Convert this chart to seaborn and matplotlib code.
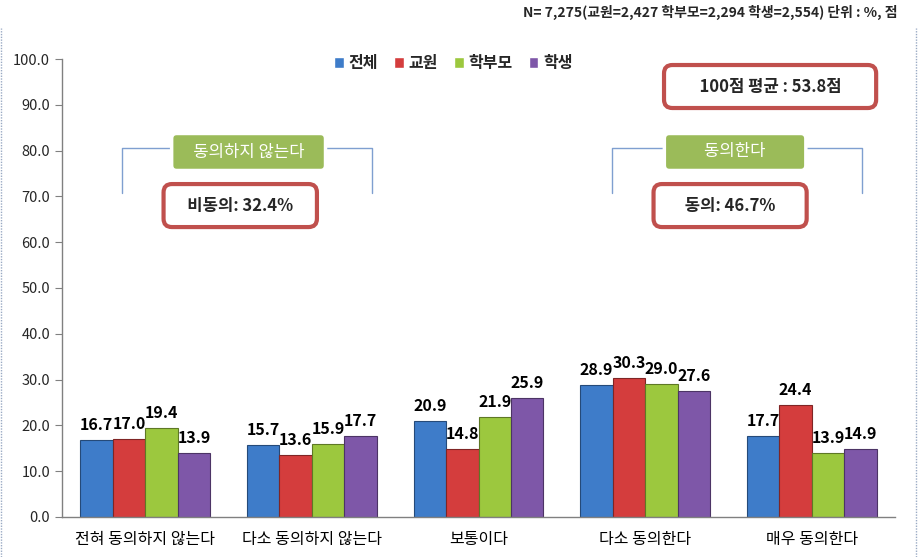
import numpy as np
import pandas as pd
import matplotlib
matplotlib.use("Agg")
import matplotlib.pyplot as plt
import matplotlib.colors as mcolors
import seaborn as sns

# ---------------------------------------------------------------------------
# Data
# ---------------------------------------------------------------------------
CATEGORIES = ["전혀 동의하지 않는다", "다소 동의하지 않는다", "보통이다",
              "다소 동의한다", "매우 동의한다"]
GROUPS = ["전체", "교원", "학부모", "학생"]
V_ALL = [16.7, 15.7, 20.9, 28.9, 17.7]
V_TEACHER = [17.0, 13.6, 14.8, 30.3, 24.4]
V_PARENT = [19.4, 15.9, 21.9, 29.0, 13.9]
V_STUDENT = [13.9, 17.7, 25.9, 27.6, 14.9]

HEADER = "N= 7,275(교원=2,427 학부모=2,294 학생=2,554) 단위 : %, 점"
DISAGREE_LABEL = "동의하지 않는다"
AGREE_LABEL = "동의한다"
DISAGREE_SUM = "비동의: 32.4%"
AGREE_SUM = "동의: 46.7%"
MEAN_TEXT = "100점 평균 : 53.8점"

COLORS = ["#3E7CC9", "#D43D3D", "#9CC83E", "#7E57A8"]

# ---------------------------------------------------------------------------
# Plot
# ---------------------------------------------------------------------------
sns.set_style("white")
plt.rcParams["font.family"] = ["Noto Sans CJK KR", "DejaVu Sans"]

df = pd.DataFrame({
    "category": CATEGORIES * 4,
    "group": sum([[g] * len(CATEGORIES) for g in GROUPS], []),
    "value": V_ALL + V_TEACHER + V_PARENT + V_STUDENT,
})

fig = plt.figure(figsize=(9.18, 5.57), dpi=100)
ax = fig.add_axes([0.0675, 0.072, 0.9075, 0.822])

sns.barplot(data=df, x="category", y="value", hue="group", order=CATEGORIES,
            hue_order=GROUPS, palette=COLORS, width=0.78, ax=ax,
            saturation=1)

# darker outline per series, like the bevelled bars in the original
for cont, col in zip(ax.containers, COLORS):
    dark = np.array(mcolors.to_rgb(col)) * 0.6
    for p in cont:
        p.set_edgecolor(dark)
        p.set_linewidth(0.8)
    ax.bar_label(cont, fmt="%.1f", padding=5, fontsize=11.5,
                 fontweight="bold", color="black")

ax.set_ylim(0, 100)
ax.set_xlim(-0.5, 4.5)
ax.set_yticks(np.arange(0, 101, 10))
ax.set_yticklabels([f"{v:.1f}" for v in np.arange(0, 101, 10)], fontsize=10.5)
ax.set_xticks(range(len(CATEGORIES)))
ax.set_xticklabels(CATEGORIES, fontsize=11.5)
ax.set_xticks(np.arange(-0.5, 4.6, 1), minor=True)
ax.tick_params(axis="x", which="major", length=0, pad=10, colors="black")
ax.tick_params(axis="x", which="minor", length=6, color="#808080", direction="out")
ax.tick_params(axis="y", length=5, color="#808080", direction="out", left=True)
ax.set_xlabel("")
ax.set_ylabel("")
for s in ["top", "right"]:
    ax.spines[s].set_visible(False)
for s in ["left", "bottom"]:
    ax.spines[s].set_color("#808080")
    ax.spines[s].set_linewidth(1.0)

leg = ax.legend(loc="upper center", bbox_to_anchor=(0.47, 1.04), ncol=4,
                frameon=False, handlelength=0.6, handleheight=0.6,
                handletextpad=0.3, columnspacing=1.0,
                prop={"weight": "bold", "size": 11.5})

# brackets
BRACKET = "#7F9FD0"
for x0, x1 in [(-0.14, 1.36), (2.80, 4.30)]:
    ax.plot([x0, x0, x1, x1], [70.7, 80.6, 80.6, 70.7], color=BRACKET,
            lw=1.0, zorder=3)

green_box = dict(boxstyle="round,pad=0.6,rounding_size=0.3", fc="#9BBB59",
                 ec="white", lw=2.5)
ax.text(0.62, 79.7, "   " + DISAGREE_LABEL + "   ", ha="center", va="center",
        color="white", fontsize=12, bbox=green_box, zorder=4)
ax.text(3.54, 79.7, "        " + AGREE_LABEL + "        ", ha="center",
        va="center", color="white", fontsize=12, bbox=green_box, zorder=4)

red_box = dict(boxstyle="round,pad=0.75,rounding_size=0.5", fc="white",
               ec="#C0504D", lw=3)
ax.text(0.57, 68.0, "   " + DISAGREE_SUM + "   ", ha="center", va="center",
        fontsize=12, fontweight="bold", bbox=red_box, zorder=4)
ax.text(3.51, 68.0, "     " + AGREE_SUM + "     ", ha="center", va="center",
        fontsize=12, fontweight="bold", bbox=red_box, zorder=4)
ax.text(3.75, 94.0, "      " + MEAN_TEXT + "      ", ha="center",
        va="center", fontsize=12, fontweight="bold", bbox=red_box, zorder=4)

fig.text(0.978, 0.978, HEADER, ha="right", va="center", fontsize=10,
         fontweight="bold")

# faint frame edges of the original chart area
for xf in (0.001, 0.998):
    fig.add_artist(plt.Line2D([xf, xf], [0.0, 0.95], color="#9AAAC4",
                              lw=1.0, ls=(0, (1, 1))))

fig.savefig("out.png", dpi=100)
